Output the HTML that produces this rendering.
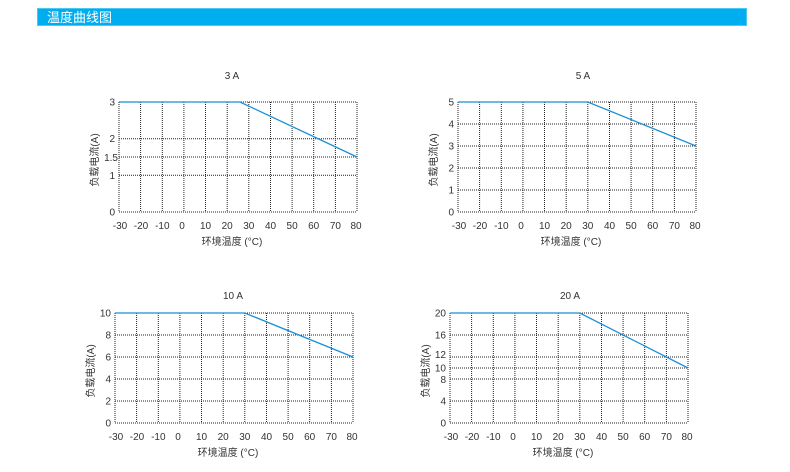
<!DOCTYPE html>
<html><head><meta charset="utf-8"><style>
html,body{margin:0;padding:0;background:#fff;width:790px;height:472px;overflow:hidden}
.bar{position:absolute;left:37px;top:8px;width:710px;height:18px;background:#00aeef;color:#fff;font:13px "Liberation Sans","Noto Sans CJK SC",sans-serif;line-height:18px;box-sizing:border-box;padding-left:9px;border:1px solid #4cc6f3}
svg{position:absolute;left:0;top:0}
text{font-family:"Liberation Sans","Noto Sans CJK SC",sans-serif;fill:#333}
.g line{stroke:#222;stroke-width:1;stroke-dasharray:1 1}
.tk{font-size:10px}
.yl{text-anchor:end}
.xl{text-anchor:middle}
.c{fill:none;stroke:#1b8fd8;stroke-width:1.3}
</style></head><body>
<div class="bar">温度曲线图</div>
<svg width="790" height="472" viewBox="0 0 790 472">
<defs>
<g id="vg" class="g">
<line x1="0" y1="0" x2="0" y2="110"/><line x1="21.6" y1="0" x2="21.6" y2="110"/><line x1="43.3" y1="0" x2="43.3" y2="110"/><line x1="64.9" y1="0" x2="64.9" y2="110"/><line x1="86.5" y1="0" x2="86.5" y2="110"/><line x1="108.2" y1="0" x2="108.2" y2="110"/><line x1="129.8" y1="0" x2="129.8" y2="110"/><line x1="151.5" y1="0" x2="151.5" y2="110"/><line x1="173.1" y1="0" x2="173.1" y2="110"/><line x1="194.7" y1="0" x2="194.7" y2="110"/><line x1="216.4" y1="0" x2="216.4" y2="110"/><line x1="238" y1="0" x2="238" y2="110"/>
</g>
<g id="xl" class="tk xl">
<text x="1" y="127">-30</text><text x="22" y="127">-20</text><text x="43.3" y="127">-10</text><text x="63" y="127">0</text><text x="86.5" y="127">10</text><text x="108.2" y="127">20</text><text x="129.8" y="127">30</text><text x="151.5" y="127">40</text><text x="173.1" y="127">50</text><text x="194.7" y="127">60</text><text x="216.4" y="127">70</text><text x="237" y="127">80</text>
<text x="113" y="143" style="font-size:10px">环境温度 (°C)</text>
<text x="-21" y="58" transform="rotate(-90 -21 58)" style="font-size:10px">负载电流(A)</text>
</g>
</defs>

<!-- Chart 1 -->
<g transform="translate(119,102)">
<text x="113" y="-23" class="tk xl">3 A</text>
<use href="#vg"/>
<g class="g"><line x1="0" y1="0" x2="238" y2="0"/><line x1="0" y1="36.7" x2="238" y2="36.7"/><line x1="0" y1="55" x2="238" y2="55"/><line x1="0" y1="73.3" x2="238" y2="73.3"/><line x1="0" y1="110" x2="238" y2="110"/></g>
<g class="tk yl"><text x="-4" y="3.5">3</text><text x="-4" y="40">2</text><text x="-1" y="59">1.5</text><text x="-4" y="77">1</text><text x="-4" y="113.5">0</text></g>
<use href="#xl"/>
<polyline class="c" points="0,0 121,0 238,55"/>
</g>

<!-- Chart 2 -->
<g transform="translate(458,102)">
<text x="125" y="-23" class="tk xl">5 A</text>
<use href="#vg"/>
<g class="g"><line x1="0" y1="0" x2="238" y2="0"/><line x1="0" y1="22" x2="238" y2="22"/><line x1="0" y1="44" x2="238" y2="44"/><line x1="0" y1="66" x2="238" y2="66"/><line x1="0" y1="88" x2="238" y2="88"/><line x1="0" y1="110" x2="238" y2="110"/></g>
<g class="tk yl"><text x="-4" y="3.5">5</text><text x="-4" y="25.5">4</text><text x="-4" y="47.5">3</text><text x="-4" y="69.5">2</text><text x="-4" y="91.5">1</text><text x="-4" y="113.5">0</text></g>
<use href="#xl"/>
<polyline class="c" points="0,0 129.8,0 238,44"/>
</g>

<!-- Chart 3 -->
<g transform="translate(115,313)">
<text x="118" y="-14" class="tk xl">10 A</text>
<use href="#vg"/>
<g class="g"><line x1="0" y1="0" x2="238" y2="0"/><line x1="0" y1="22" x2="238" y2="22"/><line x1="0" y1="44" x2="238" y2="44"/><line x1="0" y1="66" x2="238" y2="66"/><line x1="0" y1="88" x2="238" y2="88"/><line x1="0" y1="110" x2="238" y2="110"/></g>
<g class="tk yl"><text x="-4" y="3.5">10</text><text x="-4" y="25.5">8</text><text x="-4" y="47.5">6</text><text x="-4" y="69.5">4</text><text x="-4" y="91.5">2</text><text x="-4" y="113.5">0</text></g>
<use href="#xl"/>
<polyline class="c" points="0,0 129.8,0 238,44"/>
</g>

<!-- Chart 4 -->
<g transform="translate(450,313)">
<text x="120" y="-14" class="tk xl">20 A</text>
<use href="#vg"/>
<g class="g"><line x1="0" y1="0" x2="238" y2="0"/><line x1="0" y1="22" x2="238" y2="22"/><line x1="0" y1="44" x2="238" y2="44"/><line x1="0" y1="55" x2="238" y2="55"/><line x1="0" y1="66" x2="238" y2="66"/><line x1="0" y1="88" x2="238" y2="88"/><line x1="0" y1="110" x2="238" y2="110"/></g>
<g class="tk yl"><text x="-4" y="3.5">20</text><text x="-4" y="25.5">16</text><text x="-4" y="45">12</text><text x="-4" y="58.5">10</text><text x="-4" y="70">8</text><text x="-4" y="91.5">4</text><text x="-4" y="113.5">0</text></g>
<use href="#xl"/>
<polyline class="c" points="0,0 129.8,0 238,55"/>
</g>
</svg>
</body></html>
